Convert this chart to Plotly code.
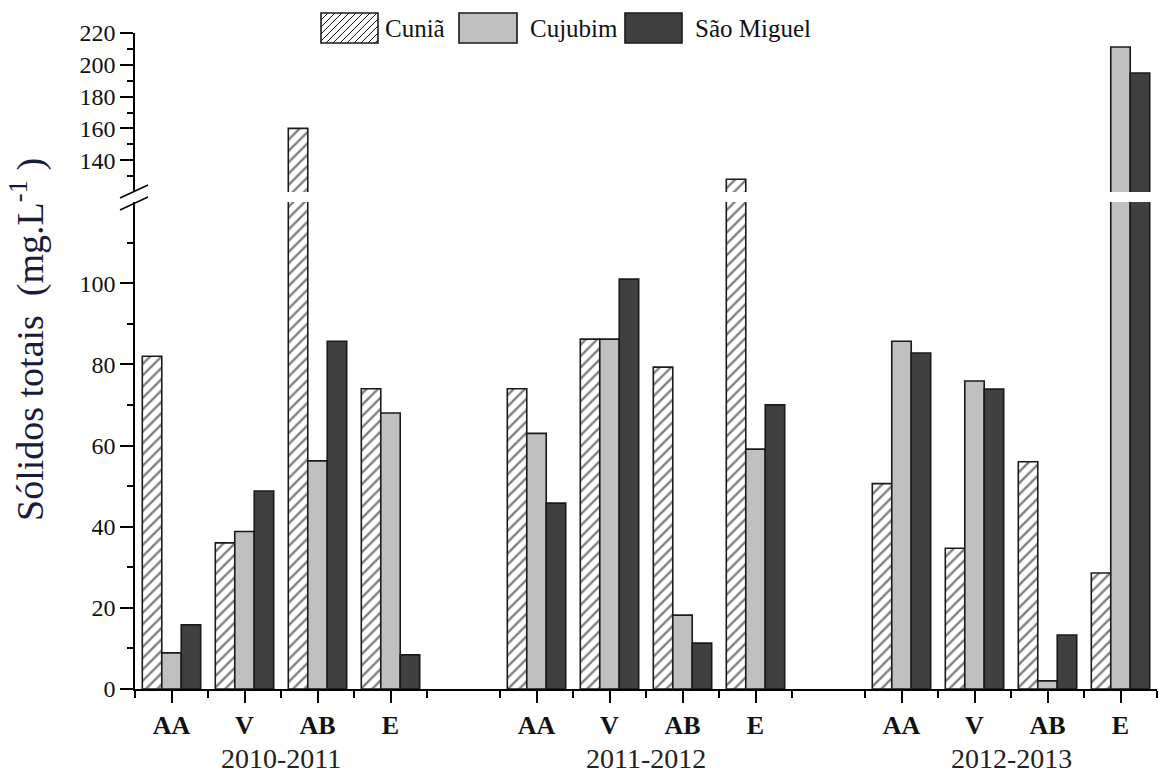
import plotly.graph_objects as go

# ---- data ----
seasons = ["2010-2011", "2011-2012", "2012-2013"]
categories = ["AA", "V", "AB", "E"]
x_pos = [1, 2, 3, 4, 6, 7, 8, 9, 11, 12, 13, 14]
tick_labels = ["AA", "V", "AB", "E"] * 3
cunia = [82, 36, 160, 74, 74, 86.2, 79.3, 128, 50.6, 34.7, 56, 28.6]
cujubim = [8.9, 38.8, 56.2, 68, 63, 86.2, 18.2, 59.1, 85.7, 75.9, 2, 211.2]
sao_miguel = [15.8, 48.8, 85.7, 8.4, 45.8, 101, 11.3, 70, 82.8, 73.9, 13.3, 194.8]
series_names = ["Cuniã", "Cujubim", "São Miguel"]
lower_ticks = [0, 20, 40, 60, 80, 100]
lower_minor = [10, 30, 50, 70, 90, 110]
upper_ticks = [140, 160, 180, 200, 220]
upper_minor = [130, 150, 170, 190, 210]
x_minor = [0.5 + i for i in range(15)]

FONT = "Liberation Serif"
OUT = "#1a1a1a"
fills = ["white", "#c0c0c0", "#404040"]

styles = [
    dict(color="white", pattern=dict(shape="/", fgcolor="#000000", bgcolor="white", size=8, solidity=0.3)),
    dict(color=fills[1]),
    dict(color=fills[2]),
]
values = [cunia, cujubim, sao_miguel]

fig = go.Figure()
for name, vals, st in zip(series_names, values, styles):
    for yax in ("y", "y2"):
        fig.add_trace(go.Bar(
            x=x_pos, y=vals, name=name, yaxis=yax, showlegend=False,
            marker=dict(line=dict(color=OUT, width=1.6), **st),
            offsetgroup=name,
        ))

plot_l, plot_r = 135, 1157
W, H = 1159, 776
top, bottom = 33, 689
ph = bottom - top
pw = plot_r - plot_l

def px_x(px):
    return (px - plot_l) / pw

def px_y(py):
    return (bottom - py) / ph

axis_common = dict(showgrid=False, zeroline=False, showline=True, linecolor="black",
                   linewidth=1.5, automargin=False)

fig.update_layout(
    width=W, height=H,
    margin=dict(l=plot_l, r=W - plot_r, t=top, b=H - bottom, autoexpand=False),
    paper_bgcolor="white", plot_bgcolor="white",
    barmode="group", bargap=0.2, bargroupgap=0,
    font=dict(family=FONT, color="#111111"),
    showlegend=False,
    xaxis=dict(
        range=[0.5, 14.5], **axis_common,
        tickmode="array", tickvals=x_pos, ticktext=["<b>%s</b>" % t for t in tick_labels],
        ticks="outside", ticklen=12, tickwidth=1.5, tickcolor="black",
        tickfont=dict(family=FONT, size=26, color="#111111"),
        minor=dict(tickvals=x_minor, ticks="outside", ticklen=7, tickwidth=1.5, tickcolor="black"),
        anchor="y",
    ),
    yaxis=dict(
        domain=[0, px_y(202)], range=[0, 120], **axis_common,
        tickmode="array", tickvals=lower_ticks,
        ticks="outside", ticklen=13, tickwidth=1.5, tickcolor="black",
        tickfont=dict(family=FONT, size=24, color="#111111"),
        minor=dict(tickvals=lower_minor, ticks="outside", ticklen=6, tickwidth=1.5, tickcolor="black"),
        anchor="x",
    ),
    yaxis2=dict(
        domain=[px_y(192), 1], range=[120, 220], **axis_common,
        tickmode="array", tickvals=upper_ticks,
        ticks="outside", ticklen=13, tickwidth=1.5, tickcolor="black",
        tickfont=dict(family=FONT, size=24, color="#111111"),
        minor=dict(tickvals=upper_minor, ticks="outside", ticklen=6, tickwidth=1.5, tickcolor="black"),
        anchor="x",
    ),
)

# axis break marks
for y0, y1 in ((198, 185), (210, 197)):
    fig.add_shape(type="line", xref="paper", yref="paper",
                  x0=px_x(120), y0=px_y(y0), x1=px_x(148), y1=px_y(y1),
                  line=dict(color="black", width=1.5))

# custom legend (large swatches like the original)
leg_boxes = [(321, 378), (459, 517), (625, 682)]
leg_text_x = [383, 528, 693]
by0, by1 = 13, 43
for i, (name, (bx0, bx1), tx) in enumerate(zip(series_names, leg_boxes, leg_text_x)):
    fig.add_shape(type="rect", xref="paper", yref="paper",
                  x0=px_x(bx0), x1=px_x(bx1), y0=px_y(by1), y1=px_y(by0),
                  fillcolor=fills[i], line=dict(color=OUT, width=1.6), layer="above")
    if i == 0:
        h = by1 - by0
        path = ""
        c = -h
        while c < (bx1 - bx0):
            xa, ya = bx0 + c, by1
            xb, yb = bx0 + c + h, by0
            if xa < bx0:
                ya = by1 - (bx0 - xa)
                xa = bx0
            if xb > bx1:
                yb = by0 + (xb - bx1)
                xb = bx1
            path += "M%.4f,%.4f L%.4f,%.4f " % (px_x(xa), px_y(ya), px_x(xb), px_y(yb))
            c += 7
        fig.add_shape(type="path", xref="paper", yref="paper", path=path,
                      line=dict(color="#111111", width=1), layer="above")
    fig.add_annotation(x=px_x(tx), xref="paper", y=px_y(28), yref="paper",
                       text=name, showarrow=False, xanchor="left", yanchor="middle",
                       font=dict(family=FONT, size=25, color="#111111"))

# season labels
for i, s in enumerate(seasons):
    grp = x_pos[i * 4:(i + 1) * 4]
    fig.add_annotation(x=sum(grp) / len(grp), xref="x", y=px_y(758), yref="paper",
                       text=s, showarrow=False, yanchor="middle",
                       font=dict(family=FONT, size=28, color="#222222"))

# y title
fig.add_annotation(x=px_x(27), xref="paper", y=px_y(340), yref="paper",
                   text="Sólidos totais  (mg.L<sup>-1</sup> )", textangle=-90,
                   showarrow=False, xanchor="center", yanchor="middle",
                   font=dict(family=FONT, size=38, color="#1a1a3a"))

fig.write_html("out.html", config={"displayModeBar": False},
               post_script="document.body.style.margin='0px';document.body.style.padding='0px';")
